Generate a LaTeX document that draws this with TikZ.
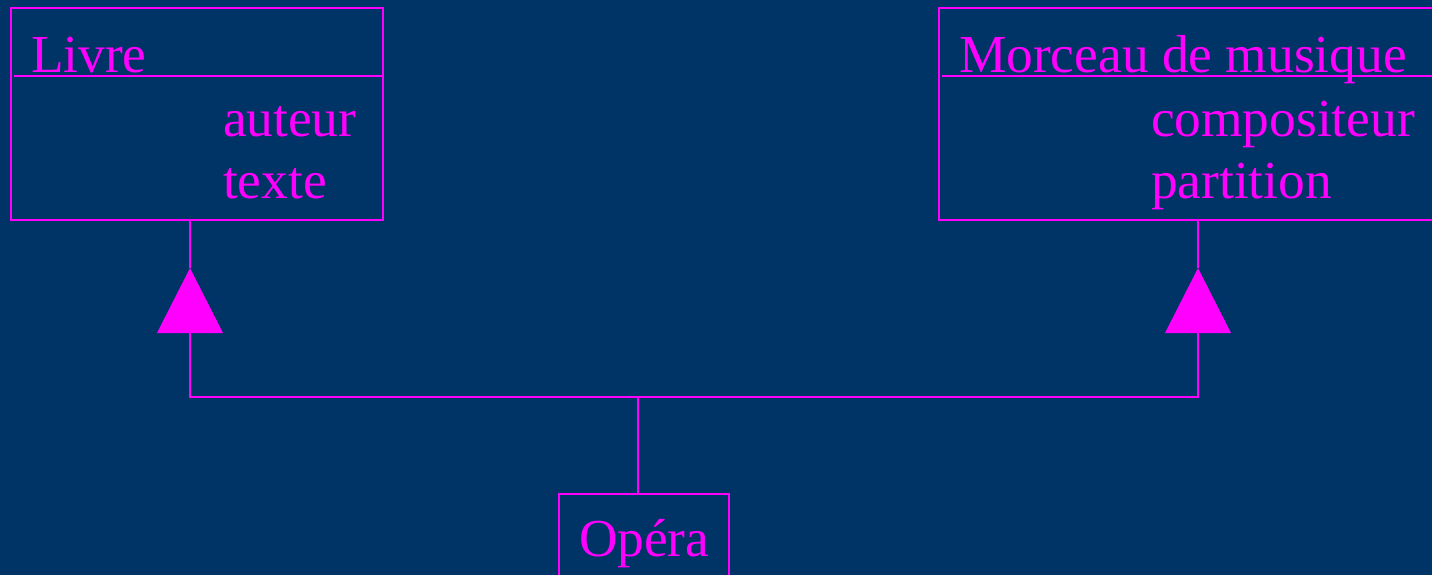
\documentclass[tikz,border=0pt]{standalone}
\usepackage{fontspec}
\setmainfont{Liberation Serif}
\definecolor{bg}{HTML}{003366}
\definecolor{mag}{HTML}{FF00FF}
\begin{document}
\begin{tikzpicture}[x=1pt,y=-1pt,line width=2pt,draw=mag,
  classbox/.style={draw=mag,line width=2pt,rectangle,inner sep=0pt,anchor=north west},
  txt/.style={text=mag,font=\fontsize{53.4}{60}\selectfont,anchor=base west,inner sep=0pt},
  wire/.style={draw=mag,line width=2pt},
  inherit/.style={fill=mag}]
\fill[bg] (0,0) rectangle (1432,575);
\useasboundingbox (0,0) rectangle (1432,575);
\clip (0,0) rectangle (1432,575);

% class boxes
\node[classbox,minimum width=372pt,minimum height=212pt] (livre) at (10,7) {};
\node[classbox,minimum width=520pt,minimum height=212pt] (morceau) at (938,7) {};
\node[classbox,minimum width=170pt,minimum height=120pt] (opera) at (558,493) {};

% compartment dividers
\draw[wire] (14,76) -- (382,76);
\draw[wire] (942,76) -- (1440,76);

% class names and attributes
\node[txt] (livreName) at (30,72.5) {Livre};
\node[txt] (livreA1) at (222,136.5) {auteur};
\node[txt] (livreA2) at (222,198.5) {texte};
\node[txt] (morceauName) at (958,72.5) {Morceau de musique};
\node[txt] (morceauA1) at (1150,136.5) {compositeur};
\node[txt] (morceauA2) at (1150,198.5) {partition};
\node[txt] (operaName) at (578,556.5) {Opéra};

% generalization arrows
\coordinate (apexL) at (190,268);
\coordinate (baseL) at (190,333);
\coordinate (apexR) at (1198,268);
\coordinate (baseR) at (1198,333);
\coordinate (junction) at (638,397);
\fill[inherit] (apexL) -- ++(-33,65) -- ++(66,0) -- cycle;
\fill[inherit] (apexR) -- ++(-33,65) -- ++(66,0) -- cycle;
\draw[wire] (apexL) -- (apexL |- livre.south);
\draw[wire] (apexR) -- (apexR |- morceau.south);
\draw[wire] (baseL) |- (junction) -| (baseR);
\draw[wire] (opera.north -| junction) -- (junction);
\end{tikzpicture}
\end{document}
